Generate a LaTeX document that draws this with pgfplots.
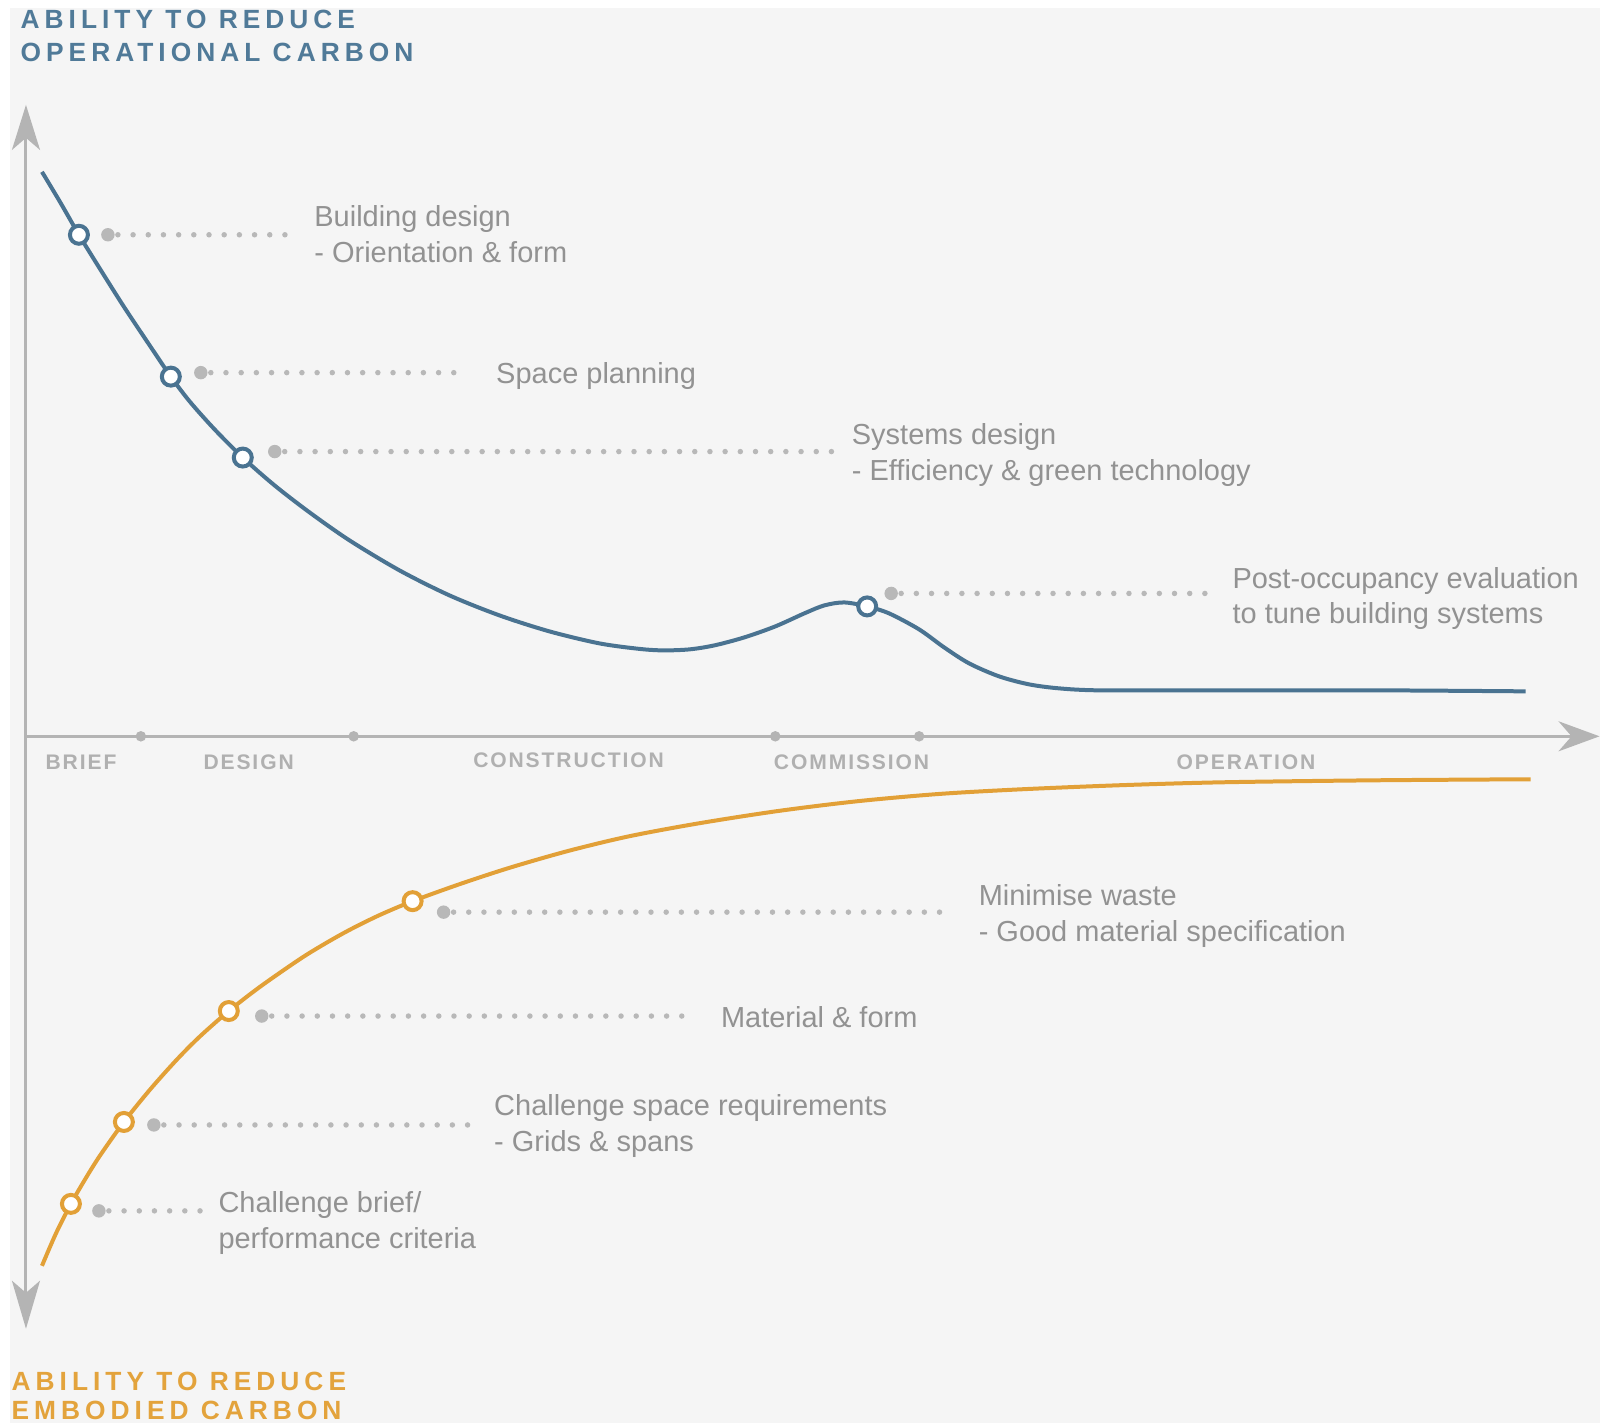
\documentclass[border=0pt]{standalone}
\usepackage{pgfplots}
\pgfplotsset{compat=1.18}
\usepackage{fontspec}
\setmainfont{Liberation Sans}
\newfontfamily\titlefont[LetterSpace=19]{Liberation Sans}
\newfontfamily\stagefont[LetterSpace=9]{Liberation Sans}
\usetikzlibrary{arrows.meta}
\definecolor{bgc}{RGB}{245,245,245}
\definecolor{blueC}{RGB}{74,115,145}
\definecolor{blueT}{RGB}{80,122,152}
\definecolor{orangeC}{RGB}{226,160,55}
\definecolor{orangeT}{RGB}{227,163,60}
\definecolor{axisgray}{RGB}{180,180,180}
\definecolor{dotgray}{RGB}{184,184,184}
\definecolor{txtgray}{RGB}{146,146,146}
\definecolor{stagegray}{RGB}{176,176,176}
\tikzset{
  leader/.style={dotgray, line width=0.55mm, line cap=round, dash pattern=on 0pt off 1.52mm},
  ann/.style={anchor=base west, inner sep=0pt, text=txtgray, font=\fontsize{8.25}{10}\selectfont},
  stage/.style={anchor=base west, inner sep=0pt, text=stagegray, font=\stagefont\bfseries\fontsize{6}{7}\selectfont},
  ttl/.style={anchor=base west, inner sep=0pt, font=\titlefont\bfseries\fontsize{7.5}{8}\selectfont},
}
\pgfplotsset{
  bigdot/.style={only marks, mark=*, mark size=0.6mm, color=dotgray, mark options={draw=none, fill=dotgray}},
}
\begin{document}
\begin{tikzpicture}
\begin{axis}[
  scale only axis, width=16.01cm, height=14.24cm,
  xmin=0, xmax=1601, ymin=0, ymax=1424, y dir=reverse,
  hide axis, clip=false,
]
% background
\fill[white] (axis cs:0,0) rectangle (axis cs:1601,1424);
\fill[bgc] (axis cs:10,8) rectangle (axis cs:1601,1424);

% axes
\addplot[axisgray, line width=0.3mm, {Stealth[length=4.5mm,width=2.8mm,inset=1.2mm]}-{Stealth[length=4.8mm,width=2.8mm,inset=1.2mm]}] coordinates {(26,105) (26,1330)};
\addplot[axisgray, line width=0.3mm, -{Stealth[length=4.1mm,width=3mm,inset=1.3mm]}] coordinates {(26,737) (1601,737)};
\addplot[only marks, mark=*, mark size=0.45mm, color=axisgray, mark options={draw=none, fill=axisgray}] coordinates {(141,737) (354,737) (776,737) (920,737)};

% stage labels
\node[stage] at (axis cs:45,770) {BRIEF};
\node[stage] at (axis cs:203,770) {DESIGN};
\node[stage] at (axis cs:473,768) {CONSTRUCTION};
\node[stage] at (axis cs:774,770) {COMMISSION};
\node[stage] at (axis cs:1177,770) {OPERATION};

% operational carbon curve
\addplot[blueC, line width=0.4mm, smooth] coordinates {
(42,172) (60,202) (79,235) (100,269) (124,307) (150,346) (171,377) (190,402) (215,430) (243,458)
(275,486) (310,513) (350,541) (400,571) (450,596) (500,616) (550,632) (600,644) (640,649.5) (664,651)
(690,650) (715,646) (745,638) (776,627) (805,614) (825,606) (845,603) (868,607) (890,614) (920,630)
(945,648) (970,664) (1000,677) (1030,685) (1060,689) (1100,691) (1200,691) (1380,691) (1527,692)};

% embodied carbon curve
\addplot[orangeC, line width=0.4mm, smooth] coordinates {
(42,1267) (56,1234.6) (71,1205) (85,1180.7) (100,1156.8) (124,1123) (150,1090.8) (177,1060.6) (200,1037.5) (229,1012)
(260,987.9) (300,960.1) (325,944.7) (350,930.7) (380,915.9) (413,902) (460,885) (511,868.3) (570,851.4) (630,837) (700,824) (780,811.6)
(859,801.9) (940,794.7) (1021,790.1) (1120,786) (1225,783) (1380,781) (1532,780)};

% leaders
\addplot[leader] coordinates {(118,235) (287,235)};
\addplot[leader] coordinates {(211,373) (468,373)};
\addplot[leader] coordinates {(285,452) (838,452)};
\addplot[leader] coordinates {(902,594) (1214,594)};
\addplot[leader] coordinates {(454,913) (953,913)};
\addplot[leader] coordinates {(272,1017) (696,1017)};
\addplot[leader] coordinates {(164,1126) (478,1126)};
\addplot[leader] coordinates {(109,1212) (205,1212)};
\addplot[bigdot] coordinates {(108,235) (201,373) (275,452) (892,594) (444,913) (262,1017) (154,1126) (99,1212)};

% circles
\addplot[only marks, mark=*, mark size=0.9mm, mark options={fill=white, draw=blueC, line width=0.4mm}] coordinates {(79,235) (171,377) (243,458) (868,607)};
\addplot[only marks, mark=*, mark size=0.9mm, mark options={fill=white, draw=orangeC, line width=0.4mm}] coordinates {(71,1205) (124,1123) (229,1012) (413,902)};

% annotations
\node[ann] at (axis cs:314,227) {Building design};
\node[ann] at (axis cs:314,263) {- Orientation \& form};
\node[ann] at (axis cs:496,384) {Space planning};
\node[ann] at (axis cs:852,445) {Systems design};
\node[ann] at (axis cs:852,481) {- Efficiency \& green technology};
\node[ann] at (axis cs:1233,589) {Post-occupancy evaluation};
\node[ann] at (axis cs:1233,624) {to tune building systems};
\node[ann] at (axis cs:979,906) {Minimise waste};
\node[ann] at (axis cs:979,942) {- Good material specification};
\node[ann] at (axis cs:721,1028) {Material \& form};
\node[ann] at (axis cs:494,1117) {Challenge space requirements};
\node[ann] at (axis cs:494,1153) {- Grids \& spans};
\node[ann] at (axis cs:218,1214) {Challenge brief/};
\node[ann] at (axis cs:218,1250) {performance criteria};

% titles
\node[ttl, text=blueT] at (axis cs:20,29) {ABILITY TO REDUCE};
\node[ttl, text=blueT] at (axis cs:20,62) {OPERATIONAL CARBON};
\node[ttl, text=orangeT] at (axis cs:11,1392) {ABILITY TO REDUCE};
\node[ttl, text=orangeT] at (axis cs:11,1421) {EMBODIED CARBON};
\end{axis}
\end{tikzpicture}
\end{document}
